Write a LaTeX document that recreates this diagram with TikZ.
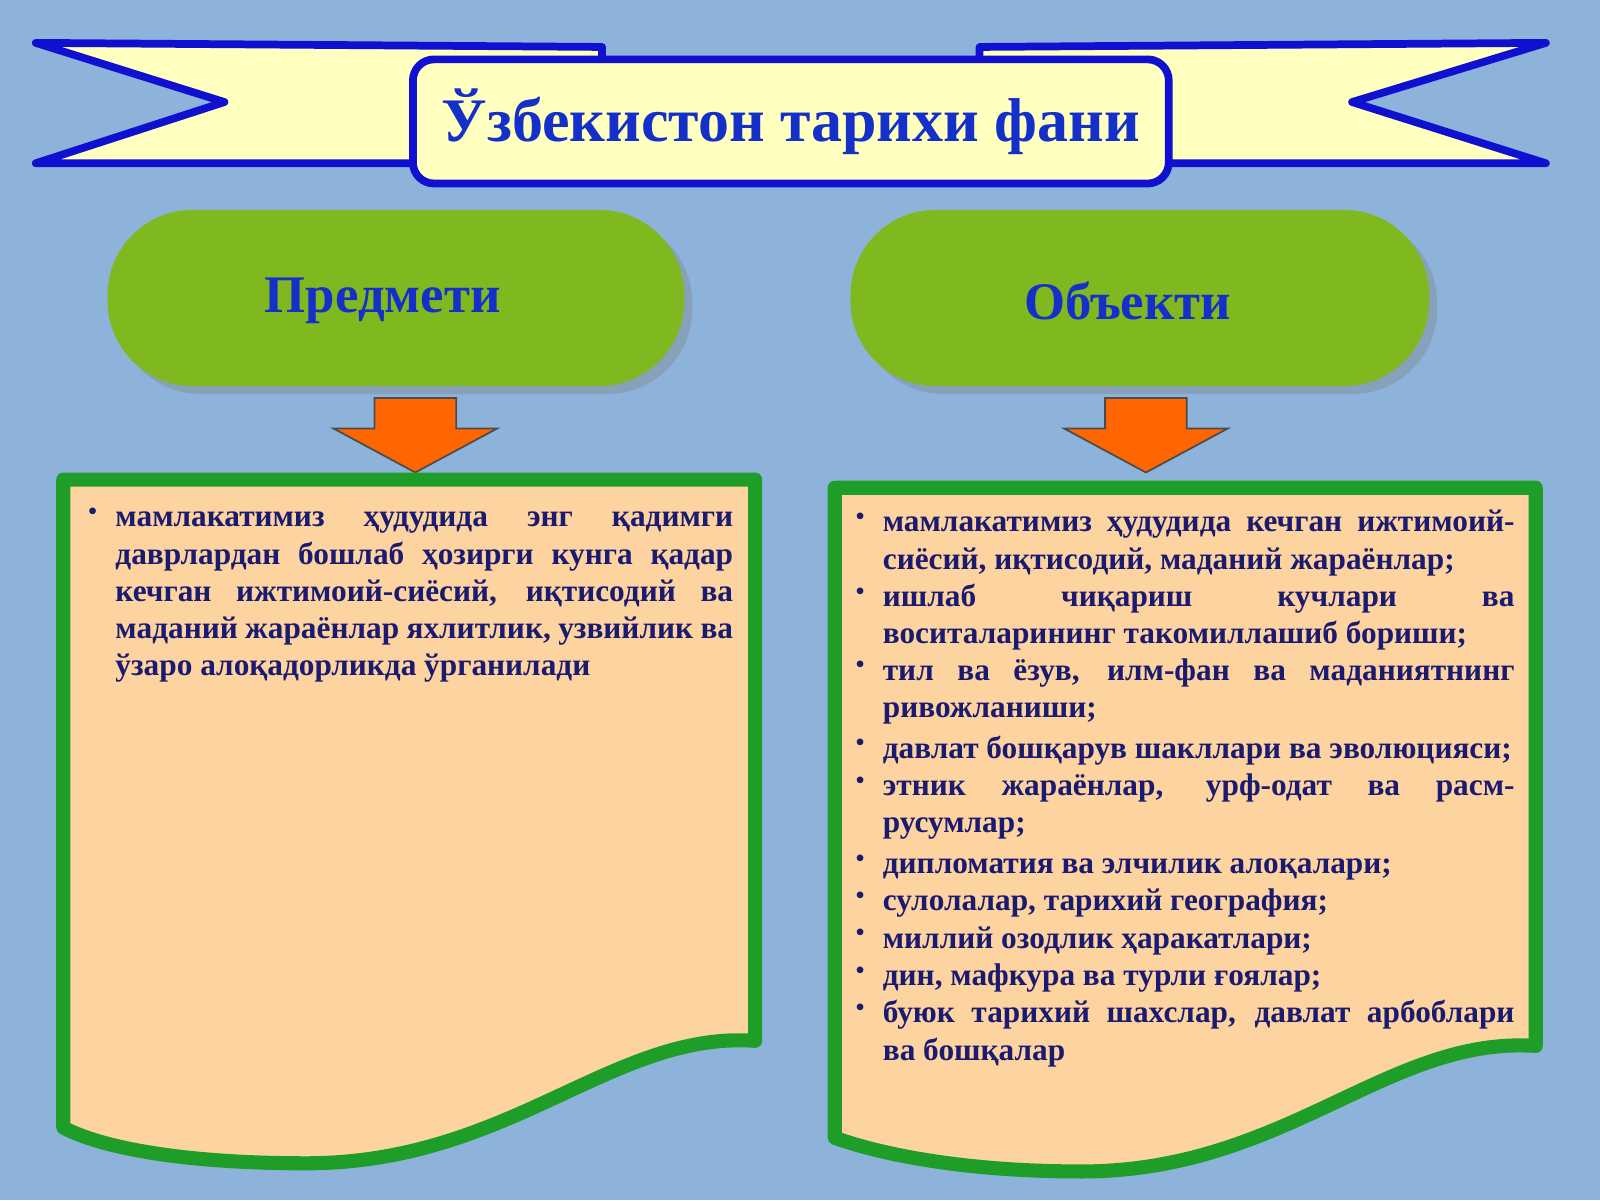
\documentclass[tikz,border=0pt]{standalone}
\usepackage{fontspec}
\setmainfont{Liberation Serif}
\usetikzlibrary{positioning,shadows}
\definecolor{sky}{HTML}{8DB3DA}
\definecolor{ribbon}{HTML}{FFFFC0}
\definecolor{ribbonline}{HTML}{1010D0}
\definecolor{pill}{HTML}{80B820}
\definecolor{peach}{HTML}{FDD3A0}
\definecolor{boxline}{HTML}{1E9E28}
\definecolor{textnavy}{HTML}{1A1A70}
\definecolor{titleblue}{HTML}{1530C8}
\definecolor{arroworange}{HTML}{FF6600}
\newcommand\bulletitem[1]{\par\noindent
  \makebox[0.27cm][l]{\raisebox{0.5ex}{\scriptsize\textbullet}}%
  \parbox[t]{\dimexpr\linewidth-0.27cm}{#1\strut}\par}
\begin{document}
\begin{tikzpicture}[x=0.0102cm,y=-0.0102cm,
    ribbonpart/.style={fill=ribbon, draw=ribbonline, line width=2.2pt, line join=round},
    pill/.style={fill=pill, draw=none, rounded corners=0.85cm, drop shadow={opacity=0.35}},
    pilltext/.style={font=\bfseries\fontsize{15}{17}\selectfont, text=titleblue},
    downarrow/.style={fill=arroworange, draw=black!70, line width=0.5pt},
    sheet/.style={fill=peach, draw=boxline, line width=4pt, line join=round},
    listtext/.style={anchor=north west, inner sep=0pt, text=textnavy,
                     font=\bfseries\fontsize{8.9}{10.6}\selectfont, align=justify}
  ]
  % background
  \fill[sky] (0,0) rectangle (1568,1176);
  \useasboundingbox (0,0) rectangle (1568,1176);

  % ribbon
  \draw[ribbonpart] (35,42) -- (590,46) -- (590,160) -- (35,160) -- (220,100) -- cycle;
  \draw[ribbonpart] (1515,42) -- (960,46) -- (960,160) -- (1515,160) -- (1325,100) -- cycle;
  \node[ribbonpart, rounded corners=6pt, minimum width=7.55cm, minimum height=1.24cm,
        font=\bfseries\fontsize{17.6}{20}\selectfont, text=titleblue]
        (title) at (775,119) {Ўзбекистон тарихи фани};

  % pills
  \node[pill, minimum width=5.76cm, minimum height=1.76cm] (predmeti) at (388,292) {};
  \node[pilltext] at (375,295) {Предмети};
  \node[pill, minimum width=5.78cm, minimum height=1.76cm] (obekti) at (1117,292) {};
  \node[pilltext] at (1105,295) {Объекти};

  % arrows
  \draw[downarrow] (367,390) -- (447,390) -- (447,420) -- (487,420) -- (407,463)
        -- (327,420) -- (367,420) -- cycle;
  \draw[downarrow] (1083,390) -- (1163,390) -- (1163,420) -- (1203,420) -- (1123,463)
        -- (1043,420) -- (1083,420) -- cycle;

  % sheets
  \draw[sheet] (62,470) -- (740,470) -- (740,1020)
        .. controls (600,1010) and (500,1140) .. (300,1140)
        .. controls (180,1140) and (100,1125) .. (62,1105) -- cycle;
  \draw[sheet] (818,478) -- (1505,478) -- (1505,1025)
        .. controls (1360,1015) and (1260,1148) .. (1060,1148)
        .. controls (940,1148) and (860,1130) .. (818,1115) -- cycle;

  % texts
  \node[listtext, text width=6.44cm] (listleft) at (86,479) {%
    \bulletitem{мамлакатимиз ҳудудида энг қадимги даврлардан бошлаб ҳозирги кунга қадар кечган ижтимоий-сиёсий, иқтисодий ва маданий жараёнлар яхлитлик, узвийлик ва ўзаро алоқадорликда ўрганилади}};
  \node[listtext, text width=6.58cm] (listright) at (838,484) {%
    \bulletitem{мамлакатимиз ҳудудида кечган ижтимоий-\allowbreak сиёсий, иқтисодий, маданий жараёнлар;}
    \bulletitem{ишлаб чиқариш кучлари ва\linebreak воситаларининг такомиллашиб бориши;}
    \bulletitem{тил ва ёзув, илм-фан ва маданиятнинг ривожланиши;}
    \bulletitem{давлат бошқарув шакллари ва эволюцияси;}
    \bulletitem{этник жараёнлар, урф-одат ва расм-\allowbreak русумлар;}
    \bulletitem{дипломатия ва элчилик алоқалари;}
    \bulletitem{сулолалар, тарихий география;}
    \bulletitem{миллий озодлик ҳаракатлари;}
    \bulletitem{дин, мафкура ва турли ғоялар;}
    \bulletitem{буюк тарихий шахслар, давлат арбоблари\linebreak ва бошқалар}};
\end{tikzpicture}
\end{document}
